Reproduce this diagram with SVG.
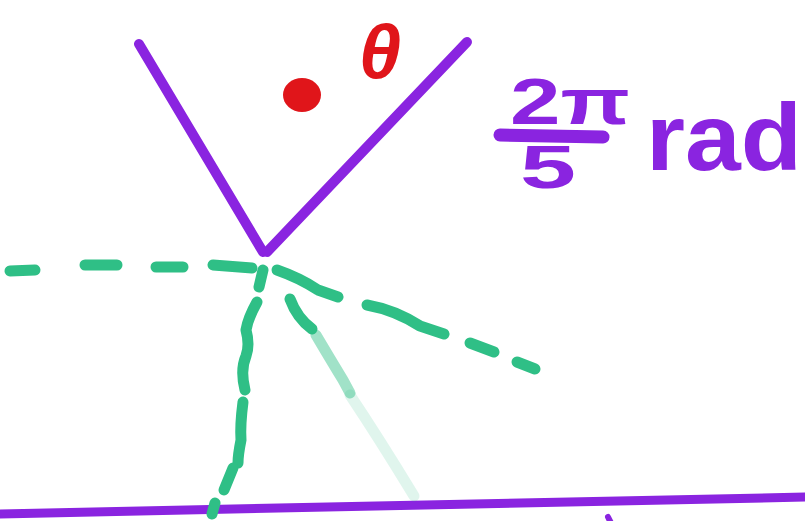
<svg xmlns="http://www.w3.org/2000/svg" width="805" height="521" viewBox="0 0 805 521">
<style>
.pu{stroke:#8a24e0;fill:none;stroke-linecap:round;stroke-linejoin:round}
.gr{stroke:#2fbf86;fill:none;stroke-width:11;stroke-linecap:round;stroke-linejoin:round}
.pt{fill:#8a24e0;font-family:"Liberation Sans",Arial,sans-serif;font-weight:bold}
</style>
<rect width="805" height="521" fill="#ffffff"/>
<g id="angle">
<path class="pu" stroke-width="10" d="M139 44 L263 252"/>
<path class="pu" stroke-width="10" d="M467 42 L267 252"/>
</g>
<g id="base">
<path class="pu" stroke-width="9" d="M-2 514 L807 497"/>
<path class="pu" stroke-width="6" d="M608 517 L611 523"/>
</g>
<g id="dashes">
<path class="gr" d="M10 271 L35 270"/>
<path class="gr" d="M85 265 L117 265"/>
<path class="gr" d="M156 267 L183 267"/>
<path class="gr" d="M213 265 L252 268"/>
<path class="gr" d="M277 270 Q300 278 318 290 L338 297"/>
<path class="gr" d="M367 305 Q395 310 420 326 L444 334"/>
<path class="gr" d="M470 343 L494 352"/>
<path class="gr" d="M517 362 L535 369"/>
<path class="gr" d="M263 270 L259 287"/>
<path class="gr" d="M257 302 Q248 318 246 330 Q250 345 246 356 Q240 370 245 390"/>
<path class="gr" d="M243 402 Q240 425 241 440 Q238 455 238 463"/>
<path class="gr" d="M233 468 L224 490"/>
<path class="gr" d="M215 503 L212 514"/>
<path class="gr" d="M290 299 Q297 318 312 329"/>
<path class="gr" stroke-width="7" opacity="0.45" d="M316 335 Q332 362 343 380 L350 393"/>
<path class="gr" stroke-width="7" opacity="0.15" d="M350 395 Q380 440 414 496"/>
</g>
<g id="theta">
<ellipse cx="302" cy="95" rx="19" ry="17" fill="#e0151a"/>
<text x="380" y="78" font-family="'Liberation Sans',Arial,sans-serif" font-size="76" font-weight="bold" font-style="italic" fill="#e0151a" text-anchor="middle">θ</text>
</g>
<g id="label">
<text class="pt" x="510" y="124" font-size="64" textLength="120" lengthAdjust="spacingAndGlyphs">2π</text>
<path class="pu" stroke-width="13" d="M500 135 L603 137"/>
<text class="pt" x="520" y="188" font-size="62" textLength="56" lengthAdjust="spacingAndGlyphs">5</text>
<text class="pt" x="646" y="170" font-size="94" textLength="156" lengthAdjust="spacingAndGlyphs">rad</text>
</g>
</svg>
